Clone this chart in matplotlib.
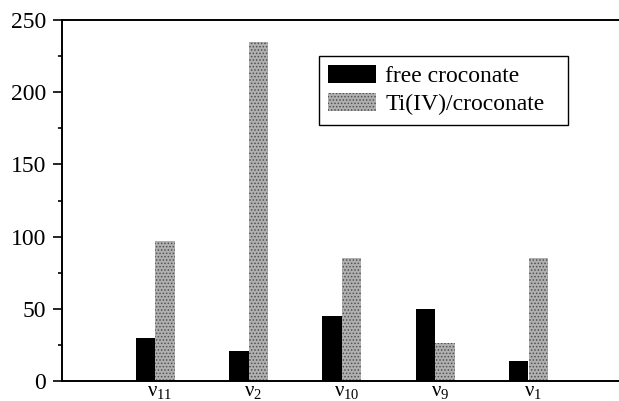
import numpy as np
import matplotlib.pyplot as plt
from matplotlib.ticker import MultipleLocator

plt.rcParams['font.family'] = ['Liberation Serif', 'DejaVu Serif']
# upright serif glyphs inside math text
plt.rcParams['mathtext.fontset'] = 'custom'
plt.rcParams['mathtext.rm'] = 'Liberation Serif'
plt.rcParams['mathtext.it'] = 'Liberation Serif'
plt.rcParams['hatch.linewidth'] = 0.7

# vibrational modes and band intensities
modes = [r'$\nu_{11}$', r'$\nu_{2}$', r'$\nu_{10}$', r'$\nu_{9}$', r'$\nu_{1}$']
free = [30, 21, 45, 50, 14]
ti_complex = [97, 235, 85, 26, 85]

x = np.arange(1, len(modes) + 1)
w = 0.21

fig = plt.figure(figsize=(6.19, 4.01), dpi=100)
# axes runs past the right edge, so no right spine shows
ax = fig.add_axes([62 / 619, 20 / 401, 600 / 619, 361 / 401])

ax.bar(x - w / 2, free, w, color='black', label='free croconate')
ax.bar(x + w / 2, ti_complex, w, color='#b0b0b0', hatch='.....',
       edgecolor='#505050', linewidth=0, label='Ti(IV)/croconate')

ax.set_xlim(0, 600 / 93.3)
ax.set_ylim(0, 250)
ax.set_xticks(x + 0.05)
ax.set_xticklabels(modes, fontsize=15)
ax.tick_params(axis='x', length=0, pad=0.5)

ax.yaxis.set_major_locator(MultipleLocator(50))
ax.yaxis.set_minor_locator(MultipleLocator(25))
ax.tick_params(axis='y', which='major', length=6.5, width=1.2, labelsize=17, pad=5)
ax.tick_params(axis='y', which='minor', length=3, width=1.2)

for s in ['left', 'top', 'bottom']:
    ax.spines[s].set_linewidth(1.4)
ax.spines['right'].set_visible(False)

leg = ax.legend(loc='upper left', mode='expand',
                bbox_to_anchor=(257 / 600, 1 - 36 / 361, 249 / 600, 0),
                fontsize=17, frameon=True, fancybox=False, framealpha=1,
                edgecolor='black', handlelength=2.0, handleheight=0.75,
                handletextpad=0.4, borderpad=0.4, labelspacing=0.25,
                borderaxespad=0)
leg.get_frame().set_linewidth(1.0)

fig.savefig('out.png', dpi=100)
